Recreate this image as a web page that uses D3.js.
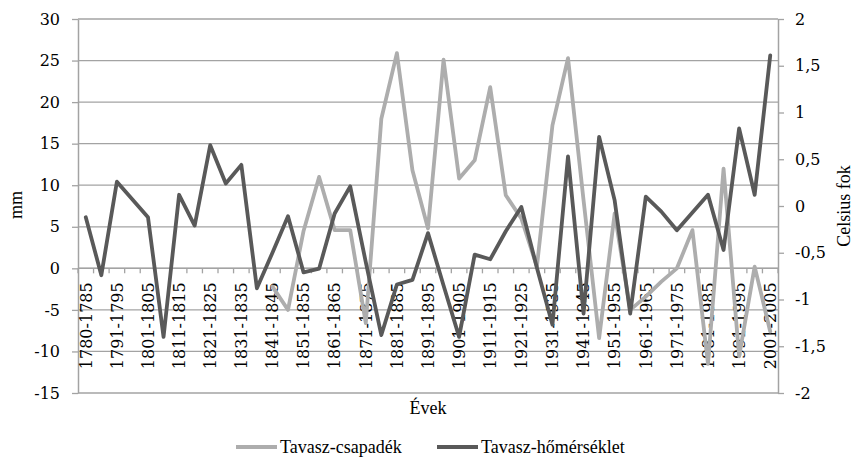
<!DOCTYPE html>
<html lang="hu">
<head>
<meta charset="UTF-8">
<title>Tavasz</title>
<script src="https://cdn.jsdelivr.net/npm/d3@7"></script>
<style>
  body { margin: 0; background: #fff; }
  .num { font-family: "DejaVu Serif", serif; font-size: 16px; fill: #000; }
  .word { font-family: "Liberation Serif", serif; font-size: 18px; fill: #000; }
</style>
</head>
<body>
<svg id="chart" width="856" height="460"></svg>
<script>
// categories (5 year periods)
var periods = ["1780-1785","1786-1790","1791-1795","1796-1800","1801-1805","1806-1810",
  "1811-1815","1816-1820","1821-1825","1826-1830","1831-1835","1836-1840","1841-1845",
  "1846-1850","1851-1855","1856-1860","1861-1865","1866-1870","1871-1875","1876-1880",
  "1881-1885","1886-1890","1891-1895","1896-1900","1901-1905","1906-1910","1911-1915",
  "1916-1920","1921-1925","1926-1930","1931-1935","1936-1940","1941-1945","1946-1950",
  "1951-1955","1956-1960","1961-1965","1966-1970","1971-1975","1976-1980","1981-1985",
  "1986-1990","1991-1995","1996-2000","2001-2005"];

// Tavasz-csapadék (mm), left axis
var csapadek = [null,null,null,null,null,null,null,null,null,null,null,null,
  -2.2,-5.0,4.5,11.0,4.6,4.6,-6.6,18.0,25.9,11.8,4.8,25.1,10.8,13.0,21.8,8.8,6.0,0.2,
  17.2,25.3,8.2,-8.4,6.6,-5.0,-3.4,-1.6,0.0,4.6,-11.5,12.0,-10.6,0.2,-7.6];

// Tavasz-hőmérséklet (Celsius fok), right axis
var homerseklet = [-0.12,-0.74,0.26,0.07,-0.12,-1.40,0.12,-0.21,0.65,0.24,0.44,-0.88,
  -0.50,-0.11,-0.71,-0.67,-0.08,0.21,-0.60,-1.38,-0.84,-0.79,-0.29,-0.85,-1.40,-0.52,
  -0.57,-0.27,-0.01,-0.66,-1.27,0.53,-1.15,0.74,0.06,-1.15,0.10,-0.06,-0.26,-0.07,
  0.12,-0.47,0.83,0.12,1.61];

var mmTicks = [-15,-10,-5,0,5,10,15,20,25,30];
var fokTicks = [-2,-1.5,-1,-0.5,0,0.5,1,1.5,2];

var svg = d3.select("#chart");
var plotLeft = 78, plotRight = 778, plotTop = 19, plotBottom = 393;
var gridColor = "#a3a3a3";
var lightColor = "#adadad", darkColor = "#595959";

var x = d3.scaleBand().domain(periods).range([plotLeft, plotRight]);
var yL = d3.scaleLinear().domain([-15, 30]).range([plotBottom, plotTop]);
var yR = d3.scaleLinear().domain([-2, 2]).range([plotBottom, plotTop]);
var cx = function(d) { return x(d) + x.bandwidth() / 2; };

svg.append("rect").attr("width", 856).attr("height", 460).attr("fill", "#fff");

// gridlines
svg.append("g").selectAll("line").data(mmTicks).enter().append("line")
  .attr("x1", plotLeft).attr("x2", plotRight)
  .attr("y1", function(d) { return yL(d); }).attr("y2", function(d) { return yL(d); })
  .attr("stroke", gridColor).attr("stroke-width", 1.3);

// left axis
var axL = svg.append("g").attr("transform", "translate(" + plotLeft + ",0)")
  .call(d3.axisLeft(yL).tickValues(mmTicks).tickSize(6).tickSizeOuter(0).tickPadding(12)
    .tickFormat(function(d) { return String(d); }));
// right axis
var axR = svg.append("g").attr("transform", "translate(" + plotRight + ",0)")
  .call(d3.axisRight(yR).tickValues(fokTicks).tickSize(6).tickSizeOuter(0).tickPadding(11)
    .tickFormat(function(d) { return String(d).replace(".", ","); }));
[axL, axR].forEach(function(a) {
  a.attr("font-family", null).attr("font-size", null);
  a.select(".domain").attr("stroke", gridColor).attr("stroke-width", 1.5);
  a.selectAll(".tick line").attr("stroke", gridColor).attr("stroke-width", 1.3);
  a.selectAll("text").attr("class", "num");
});

// x axis at mm = 0
var y0 = yL(0);
var bounds = periods.map(function(d) { return x(d); }).concat([plotRight]);
svg.append("g").selectAll("line").data(bounds).enter().append("line")
  .attr("x1", function(d) { return d; }).attr("x2", function(d) { return d; })
  .attr("y1", y0).attr("y2", y0 + 5)
  .attr("stroke", gridColor).attr("stroke-width", 1.3);
svg.append("line").attr("x1", plotLeft).attr("x2", plotRight).attr("y1", y0).attr("y2", y0)
  .attr("stroke", gridColor).attr("stroke-width", 1.5);
svg.append("g").selectAll("text").data(periods.filter(function(d, i) { return i % 2 === 0; }))
  .enter().append("text").attr("class", "num")
  .attr("transform", function(d) { return "translate(" + cx(d) + "," + (y0 + 14) + ") rotate(-90)"; })
  .attr("text-anchor", "end").attr("dy", "0.36em")
  .text(function(d) { return d; });

// lines
var lineL = d3.line().defined(function(d) { return d[1] !== null; })
  .x(function(d) { return cx(d[0]); }).y(function(d) { return yL(d[1]); });
var lineR = d3.line()
  .x(function(d) { return cx(d[0]); }).y(function(d) { return yR(d[1]); });

svg.append("path").datum(d3.zip(periods, csapadek)).attr("d", lineL)
  .attr("fill", "none").attr("stroke", lightColor).attr("stroke-width", 3.8)
  .attr("stroke-linejoin", "round").attr("stroke-linecap", "round");
svg.append("path").datum(d3.zip(periods, homerseklet)).attr("d", lineR)
  .attr("fill", "none").attr("stroke", darkColor).attr("stroke-width", 3.8)
  .attr("stroke-linejoin", "round").attr("stroke-linecap", "round");

// titles
svg.append("text").attr("class", "word").attr("text-anchor", "middle")
  .attr("transform", "translate(22,205) rotate(-90)").text("mm");
svg.append("text").attr("class", "word").attr("text-anchor", "middle")
  .attr("transform", "translate(850,206) rotate(-90)").text("Celsius fok");
svg.append("text").attr("class", "word").attr("text-anchor", "middle")
  .attr("x", (plotLeft + plotRight) / 2).attr("y", 414).text("Évek");

// legend
var legend = [
  { name: "Tavasz-csapadék", color: lightColor, x: 236 },
  { name: "Tavasz-hőmérséklet", color: darkColor, x: 437 }
];
var lg = svg.append("g").selectAll("g").data(legend).enter().append("g")
  .attr("transform", function(d) { return "translate(" + d.x + ",447)"; });
lg.append("line").attr("x1", 0).attr("x2", 41).attr("y1", 0).attr("y2", 0)
  .attr("stroke", function(d) { return d.color; }).attr("stroke-width", 3.8);
lg.append("text").attr("class", "word").attr("x", 44).attr("dy", "0.32em")
  .text(function(d) { return d.name; });
</script>
</body>
</html>
